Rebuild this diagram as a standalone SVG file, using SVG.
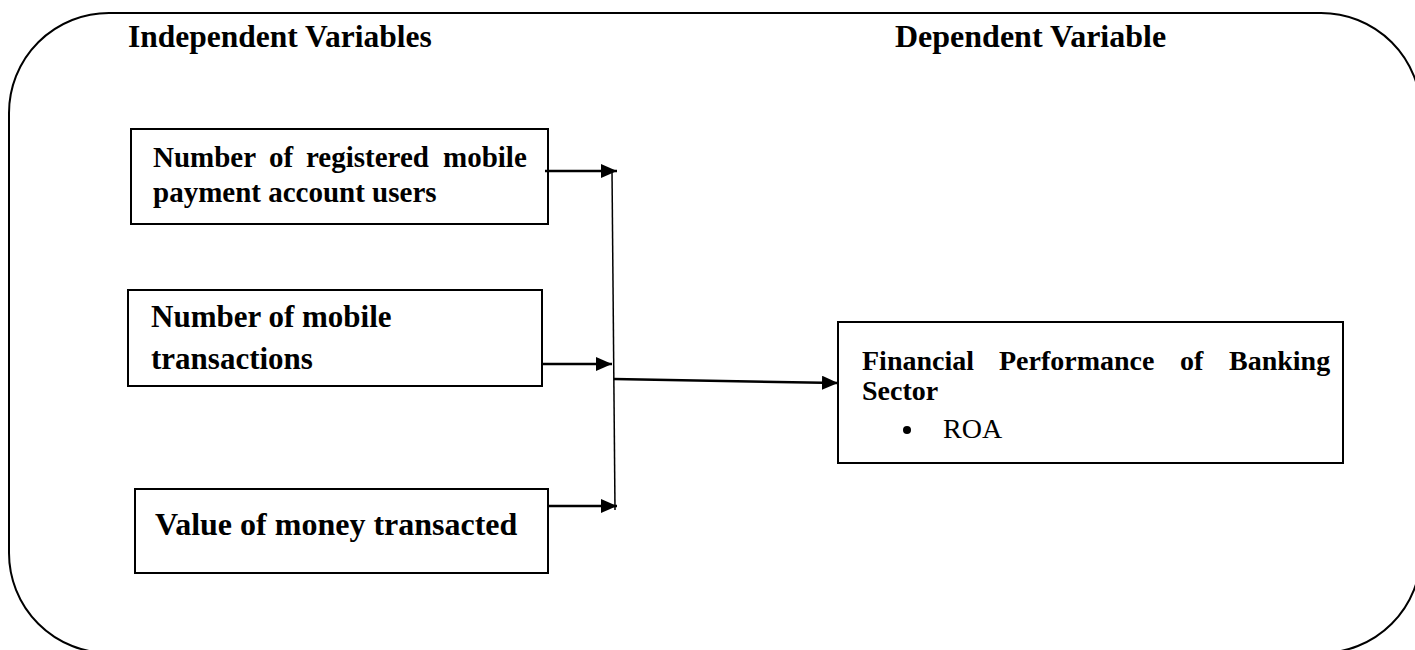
<svg xmlns="http://www.w3.org/2000/svg" width="1415" height="650" viewBox="0 0 1415 650">
<style>
.b{fill:#fff;stroke:#000;stroke-width:2}
.t{font-family:"Liberation Serif","Times New Roman",serif;font-weight:bold;fill:#000}
.r{font-family:"Liberation Serif","Times New Roman",serif;font-weight:normal;fill:#000}
.c{stroke:#000;fill:none}
</style>
<defs>
<marker id="ah" markerWidth="16" markerHeight="14" refX="16" refY="7" orient="auto" markerUnits="userSpaceOnUse">
<path d="M0,0 L16,7 L0,14 Z" fill="#000"/>
</marker>
</defs>
<rect width="1415" height="650" fill="#fff"/>
<rect x="9" y="13" width="1412" height="640" rx="100" ry="100" fill="none" stroke="#000" stroke-width="2"/>
<text class="t" x="128" y="47" font-size="31.5">Independent Variables</text>
<text class="t" x="895" y="47" font-size="32">Dependent Variable</text>
<g id="n1">
<rect class="b" x="131" y="129" width="417" height="95"/>
<text class="t" font-size="29"><tspan x="153" y="167">Number</tspan><tspan x="269" y="167">of</tspan><tspan x="306" y="167">registered</tspan><tspan x="443" y="167">mobile</tspan><tspan x="153" y="202">payment account users</tspan></text>
</g>
<g id="n2">
<rect class="b" x="128" y="290" width="414" height="96"/>
<text class="t" font-size="31"><tspan x="151" y="327">Number of mobile</tspan><tspan x="151" y="369">transactions</tspan></text>
</g>
<g id="n3">
<rect class="b" x="135" y="489" width="413" height="84"/>
<text class="t" x="155" y="535" font-size="32">Value of money transacted</text>
</g>
<g id="n4">
<rect class="b" x="838" y="322" width="505" height="141"/>
<text class="t" font-size="28"><tspan x="862" y="370">Financial</tspan><tspan x="999" y="370">Performance</tspan><tspan x="1180" y="370">of</tspan><tspan x="1229" y="370">Banking</tspan><tspan x="862" y="400">Sector</tspan></text>
<circle cx="907" cy="430" r="4"/>
<text class="r" x="943" y="438" font-size="28">ROA</text>
</g>
<g id="connectors">
<line class="c" x1="612" y1="171" x2="615" y2="510" stroke-width="1.5"/>
<line class="c" x1="545" y1="171" x2="617" y2="171" stroke-width="2.5" marker-end="url(#ah)"/>
<line class="c" x1="542" y1="364" x2="612" y2="364" stroke-width="2.5" marker-end="url(#ah)"/>
<line class="c" x1="548" y1="506" x2="617" y2="506" stroke-width="2.5" marker-end="url(#ah)"/>
<line class="c" x1="614" y1="379" x2="838" y2="383" stroke-width="2.5" marker-end="url(#ah)"/>
</g>
</svg>
